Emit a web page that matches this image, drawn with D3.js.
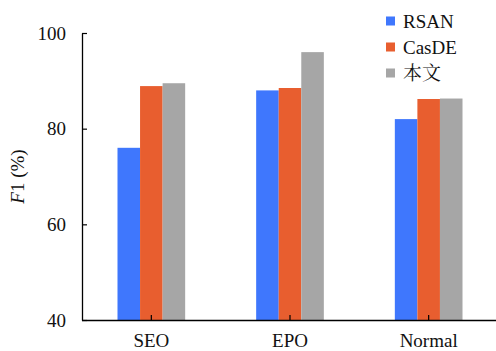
<!DOCTYPE html>
<html>
<head>
<meta charset="utf-8">
<script src="https://cdn.jsdelivr.net/npm/d3@7/dist/d3.min.js"></script>
<style>
  html, body { margin: 0; padding: 0; background: #fff; }
  svg { display: block; }
</style>
</head>
<body>
<svg id="chart" width="496" height="351"></svg>
<script>
// Scenario categories along the x axis
const categories = ["SEO", "EPO", "Normal"];
// Methods compared in each group
const seriesNames = ["RSAN", "CasDE", "本文"];
// F1 scores (%) per method, one value per category
const rsanValues  = [76.0, 88.0, 82.0];
const casdeValues = [88.9, 88.5, 86.2];
const oursValues  = [89.5, 96.0, 86.3];
const yTicks = [40, 60, 80, 100];

const seriesValues = [rsanValues, casdeValues, oursValues];
const colors = ["#3f77fd", "#e85e2f", "#a6a6a6"];
const latinFont = "'Liberation Serif'";
const cjkFont = "'Noto Serif CJK SC'";
const fontFor = s => /[\u4e00-\u9fff]/.test(s) ? cjkFont : latinFont;

const svg = d3.select("#chart");
const plotLeft = 82, plotRight = 498, plotTop = 33, plotBottom = 320;

const x = d3.scaleBand()
  .domain(categories)
  .range([plotLeft, plotRight])
  .paddingInner(0.512)
  .paddingOuter(0.256);

const xInner = d3.scaleBand()
  .domain(seriesNames)
  .range([0, x.bandwidth()]);

const y = d3.scaleLinear().domain([40, 100]).range([plotBottom, plotTop]);

// Bars
const groups = svg.append("g").selectAll("g")
  .data(categories)
  .join("g")
  .attr("transform", d => `translate(${x(d)},0)`);

groups.selectAll("rect")
  .data((c, ci) => seriesNames.map((s, si) => ({ s, si, v: seriesValues[si][ci] })))
  .join("rect")
  .attr("x", d => xInner(d.s))
  .attr("width", xInner.bandwidth())
  .attr("y", d => y(d.v))
  .attr("height", d => y(40) - y(d.v))
  .attr("fill", d => colors[d.si]);

// Y axis (ticks pointing into the plot)
const yAxis = svg.append("g")
  .attr("transform", `translate(${plotLeft},0)`)
  .call(d3.axisLeft(y).tickValues(yTicks).tickSizeInner(-5).tickSizeOuter(0).tickPadding(16).tickFormat(d3.format("d")));
yAxis.attr("font-family", null).attr("font-size", null);
yAxis.select(".domain").attr("stroke", "#000").attr("stroke-width", 1.3);
yAxis.selectAll(".tick line").attr("stroke", "#000").attr("stroke-width", 1.2);
yAxis.selectAll(".tick text").style("font-size", "19px").style("font-family", latinFont).attr("fill", "#111");

// X axis (ticks pointing up at group centres)
const xAxis = svg.append("g")
  .attr("transform", `translate(0,${plotBottom})`)
  .call(d3.axisBottom(x).tickSizeInner(-5).tickSizeOuter(0).tickPadding(14));
xAxis.attr("font-family", null).attr("font-size", null);
xAxis.select(".domain").attr("stroke", "#000").attr("stroke-width", 1.3)
  .attr("d", `M${plotLeft},0.5H496`);
xAxis.selectAll(".tick line").attr("stroke", "#000").attr("stroke-width", 1.2);
xAxis.selectAll(".tick text").style("font-size", "19px").style("font-family", latinFont).attr("fill", "#111");

// Y axis title
const title = svg.append("text")
  .attr("transform", `translate(24,${(plotTop + plotBottom) / 2}) rotate(-90)`)
  .attr("text-anchor", "middle")
  .attr("fill", "#111")
  .style("font-size", "19px")
  .style("font-family", latinFont);
title.append("tspan").style("font-style", "italic").text("F");
title.append("tspan").text("1 (%)");

// Legend
const legend = svg.append("g").attr("transform", "translate(386,21)");
const items = legend.selectAll("g")
  .data(seriesNames)
  .join("g")
  .attr("transform", (d, i) => `translate(0,${i * 26})`);
items.append("rect")
  .attr("x", 0).attr("y", -4.5)
  .attr("width", 9).attr("height", 9)
  .attr("fill", (d, i) => colors[i]);
items.append("text")
  .attr("x", 17).attr("y", 6.5)
  .attr("fill", "#111")
  .style("font-size", "19px")
  .style("font-family", d => fontFor(d))
  .text(d => d);
</script>
</body>
</html>
